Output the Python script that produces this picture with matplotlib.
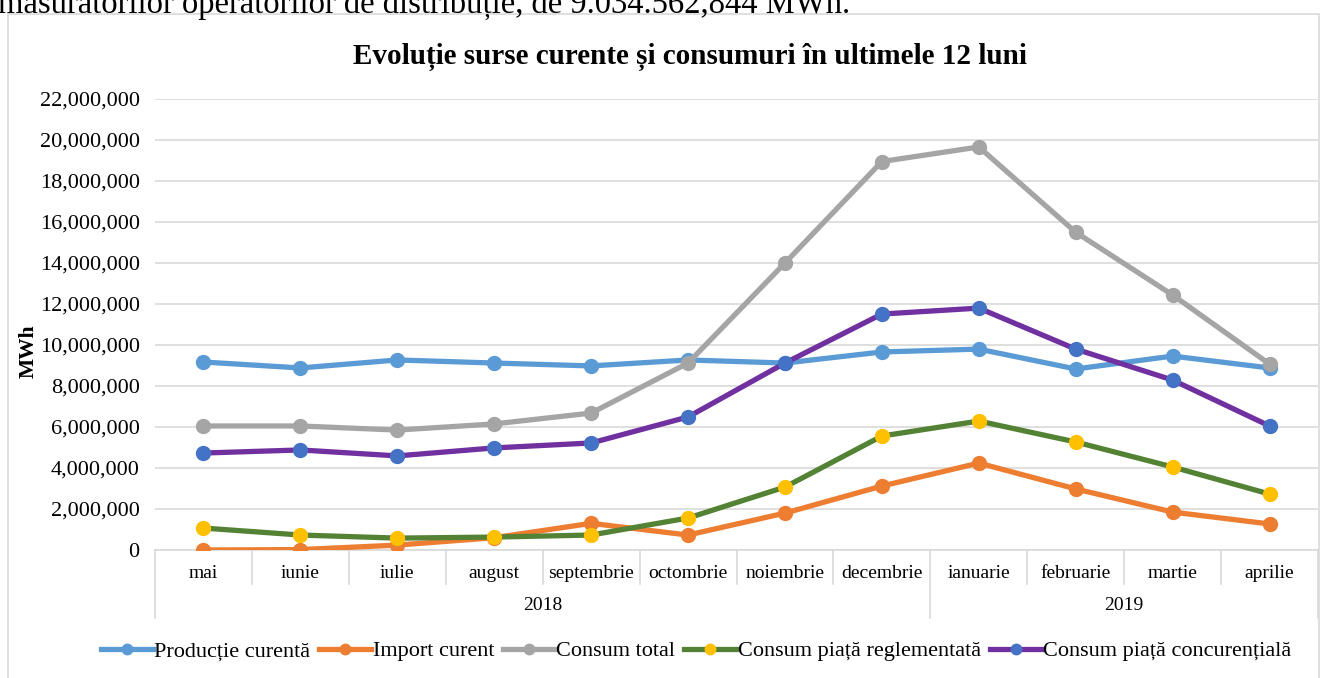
import matplotlib.pyplot as plt
from matplotlib.patches import Rectangle
from matplotlib.lines import Line2D
from matplotlib.ticker import FuncFormatter

plt.rcParams['font.family'] = ['Liberation Serif', 'DejaVu Serif']

# date
luni = ['mai', 'iunie', 'iulie', 'august', 'septembrie', 'octombrie',
        'noiembrie', 'decembrie', 'ianuarie', 'februarie', 'martie', 'aprilie']
ani = ['2018', '2019']
luni_pe_an = [8, 4]

productie = [9.17e6, 8.88e6, 9.27e6, 9.12e6, 8.98e6, 9.27e6,
             9.12e6, 9.66e6, 9.80e6, 8.83e6, 9.46e6, 8.88e6]
import_cur = [0.0, 0.02e6, 0.24e6, 0.60e6, 1.30e6, 0.73e6,
              1.80e6, 3.12e6, 4.24e6, 2.98e6, 1.85e6, 1.27e6]
consum_total = [6.05e6, 6.05e6, 5.85e6, 6.15e6, 6.68e6, 9.12e6,
                14.0e6, 18.95e6, 19.66e6, 15.5e6, 12.44e6, 9.07e6]
consum_regl = [1.07e6, 0.73e6, 0.58e6, 0.63e6, 0.73e6, 1.56e6,
               3.07e6, 5.56e6, 6.29e6, 5.27e6, 4.05e6, 2.73e6]
consum_conc = [4.73e6, 4.88e6, 4.59e6, 4.98e6, 5.22e6, 6.49e6,
               9.12e6, 11.51e6, 11.80e6, 9.80e6, 8.29e6, 6.05e6]

serii = [
    ('Producție curentă', productie, '#5B9BD5', '#5B9BD5'),
    ('Import curent', import_cur, '#ED7D31', '#ED7D31'),
    ('Consum total', consum_total, '#A5A5A5', '#A5A5A5'),
    ('Consum piață reglementată', consum_regl, '#548235', '#FFC000'),
    ('Consum piață concurențială', consum_conc, '#7030A0', '#4472C4'),
]

W, H = 1328, 678
fig = plt.figure(figsize=(W / 100, H / 100), dpi=100)

# chenarul graficului
fig.patches.append(Rectangle((8 / W, -0.01), 1311 / W, (H - 14) / H + 0.01,
                             transform=fig.transFigure, fill=False,
                             edgecolor='#D9D9D9', linewidth=1.2))
# rand de text din document, taiat sus ca in original
fig.text(-2 / W, 1 - 13 / H, 'măsurătorilor operatorilor de distribuție, de 9.034.562,844 MWh.',
         fontsize=23.5, va='baseline', ha='left')

x0, x1, y0, y1 = 155, 1318, 550, 99
ax = fig.add_axes([x0 / W, (H - y0) / H, (x1 - x0) / W, (y0 - y1) / H])

x = list(range(len(luni)))
for nume, vals, cl, cm in serii:
    ax.plot(x, vals, color=cl, linewidth=3.8, marker='o', markersize=10,
            markerfacecolor=cm, markeredgecolor=cm, label=nume, zorder=3)

ax.set_xlim(-0.5, len(luni) - 0.5)
ax.set_ylim(0, 22e6)
ax.set_yticks(range(0, 22000001, 2000000))
ax.yaxis.set_major_formatter(FuncFormatter(lambda v, p: f'{int(v):,}'))
ax.tick_params(axis='y', length=0, labelsize=16, pad=11)
ax.set_xticks([])
ax.grid(axis='y', color='#D9D9D9', linewidth=1.2)
ax.set_axisbelow(True)
for s in ['top', 'right', 'left']:
    ax.spines[s].set_visible(False)
ax.spines['bottom'].set_color('#D9D9D9')
ax.spines['bottom'].set_linewidth(1.2)
ax.set_ylabel('MWh', fontsize=15.5, fontweight='bold')
ax.yaxis.set_label_coords((39 - x0) / (x1 - x0), (y0 - 351) / (y0 - y1))

# axa de categorii pe doua niveluri
h_ax = y0 - y1
r1 = -34 / h_ax
r2 = -68 / h_ax
tr = ax.get_xaxis_transform()
for i, l in enumerate(luni):
    ax.text(i, -23 / h_ax, l, transform=tr, ha='center', va='center', fontsize=14)
granite = [-0.5]
for n in luni_pe_an:
    granite.append(granite[-1] + n)
for i in range(len(luni) + 1):
    b = i - 0.5
    jos = r2 if b in granite else r1
    ax.add_line(Line2D([b, b], [0, jos], transform=tr, color='#D9D9D9',
                       linewidth=1.2, clip_on=False))
for k, an in enumerate(ani):
    mid = (granite[k] + granite[k + 1]) / 2
    ax.text(mid, -56 / h_ax, an, transform=tr, ha='center', va='center', fontsize=14)

fig.text(690 / W, 1 - 57 / H, 'Evoluție surse curente și consumuri în ultimele 12 luni',
         ha='center', va='center', fontsize=21, fontweight='bold')

fig.legend(loc='center', bbox_to_anchor=(696 / W, 1 - 651 / H), ncol=5, frameon=False,
           fontsize=16, handlelength=2.35, handletextpad=0.05, columnspacing=0.4,
           markerscale=0.75)

fig.savefig('out.png', dpi=100)
